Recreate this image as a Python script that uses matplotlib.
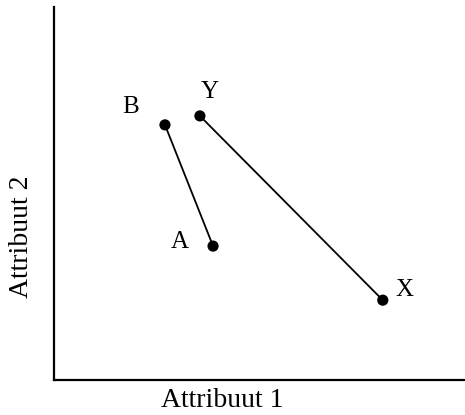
import matplotlib
matplotlib.use("Agg")
import matplotlib.pyplot as plt

# Alternatives on two attributes
names = ["B", "A", "Y", "X"]
attr1 = [27.0, 38.7, 35.5, 80.0]
attr2 = [68.4, 35.9, 70.8, 21.4]
pairs = [("B", "A"), ("Y", "X")]
label_offsets = {"B": (-34, 18), "A": (-33, 4), "Y": (10, 24), "X": (22, 10)}

plt.rcParams["font.family"] = ["Liberation Serif", "DejaVu Serif"]

fig = plt.figure(figsize=(4.65, 4.15), dpi=100)
ax = fig.add_axes([54 / 465, 35 / 415, 411 / 465, 373 / 415])
ax.set_xlim(0, 100)
ax.set_ylim(0, 100)

pos = {n: (x, y) for n, x, y in zip(names, attr1, attr2)}
for a, b in pairs:
    ax.plot([pos[a][0], pos[b][0]], [pos[a][1], pos[b][1]],
            color="black", lw=1.3, solid_capstyle="round", zorder=2)
ax.scatter(attr1, attr2, s=65, color="black", zorder=3, edgecolors="none")

for n in names:
    dx, dy = label_offsets[n]
    ax.annotate(n, pos[n], xytext=(dx, dy), textcoords="offset pixels",
                ha="center", va="center", fontsize=18)

for s in ("top", "right"):
    ax.spines[s].set_visible(False)
for s in ("left", "bottom"):
    ax.spines[s].set_linewidth(1.6)
ax.set_xticks([])
ax.set_yticks([])

fig.text(222 / 465, 1 - 400 / 415, "Attribuut 1", ha="center", va="center", fontsize=20)
fig.text(22 / 465, 1 - 237 / 415, "Attribuut 2", ha="center", va="center",
         rotation=90, fontsize=20)

fig.savefig("out.png", dpi=100)
